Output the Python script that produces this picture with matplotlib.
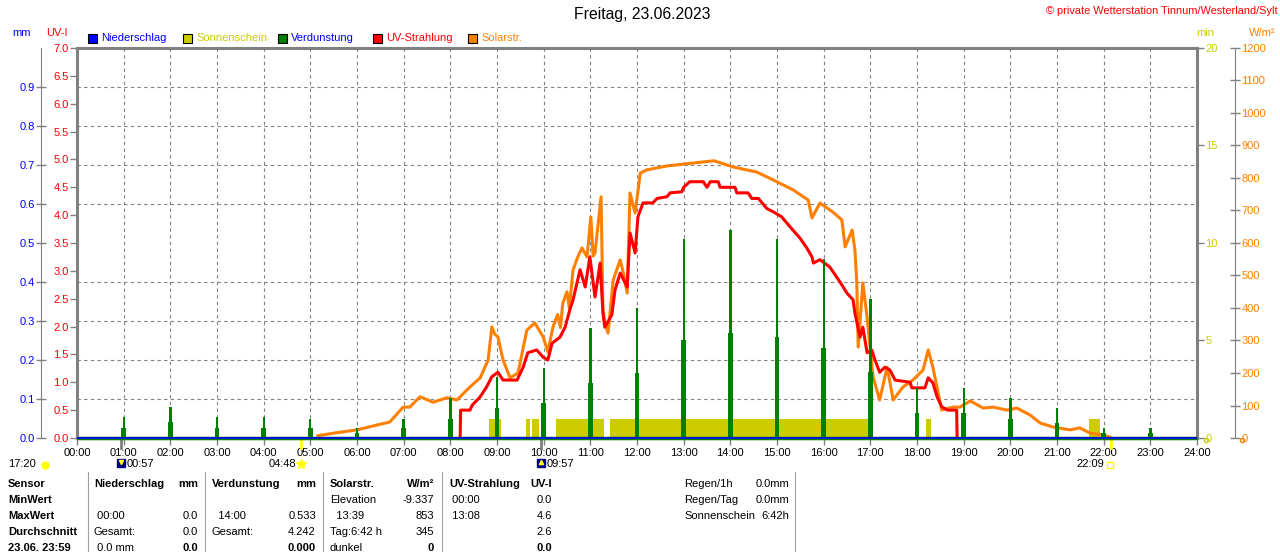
import matplotlib
matplotlib.use("Agg")
import matplotlib.pyplot as plt
from matplotlib.patches import Rectangle
from matplotlib.lines import Line2D
from matplotlib.ticker import MultipleLocator, FormatStrFormatter

plt.rcParams['font.family'] = ['Liberation Sans', 'DejaVu Sans']
plt.rcParams['font.size'] = 8

# ---- data ----
hours = list(range(25))
hour_labels = [f"{h:02d}:00" for h in hours]

# Verdunstung (mm), one spike per hour
evap_hours = list(range(1, 24))
evap_peak = [0.054, 0.080, 0.054, 0.054, 0.050, 0.026, 0.050, 0.103, 0.156, 0.180, 0.282, 0.333,
             0.510, 0.533, 0.510, 0.460, 0.356, 0.128, 0.128, 0.103, 0.077, 0.026, 0.026]
evap_low = [0.025, 0.040, 0.025, 0.025, 0.025, 0.012, 0.025, 0.050, 0.077, 0.090, 0.140, 0.167,
            0.250, 0.270, 0.260, 0.230, 0.170, 0.064, 0.064, 0.050, 0.038, 0.012, 0.012]

# Sonnenschein (min per minute)
sun_start = ["08:50", "09:37", "09:45", "10:16", "11:25", "18:11", "21:41"]
sun_end = ["09:05", "09:43", "09:54", "11:17", "16:58", "18:18", "21:55"]
sun_min = [1, 1, 1, 1, 1, 1, 1]

# Solarstrahlung (W/m2)
solar_t = [5.16, 5.5, 6.0, 6.43, 6.7, 6.99, 7.13, 7.35, 7.63, 7.93, 8.14, 8.42, 8.64, 8.81, 8.89,
           8.95, 9.02, 9.13, 9.28, 9.45, 9.64, 9.81, 9.99, 10.09, 10.2, 10.3, 10.36, 10.41, 10.5,
           10.55, 10.63, 10.73, 10.82, 10.93, 11.01, 11.06, 11.1, 11.23, 11.27, 11.31, 11.38,
           11.49, 11.64, 11.72, 11.79, 11.85, 11.96, 12.07, 12.21, 12.64, 13.2, 13.65, 14.06,
           14.57, 14.92, 15.35, 15.67, 15.75, 15.92, 16.2, 16.39, 16.46, 16.61, 16.67, 16.71,
           16.74, 16.84, 16.93, 17.06, 17.2, 17.36, 17.49, 17.7, 17.91, 18.13, 18.24, 18.34,
           18.53, 18.77, 18.92, 19.14, 19.42, 19.63, 19.93, 20.14, 20.42, 20.64, 20.91, 21.28,
           21.49, 21.71, 21.99, 22.13]
solar_w = [7, 15, 25, 40, 49, 95, 95, 127, 110, 124, 117, 157, 185, 240, 342,
           320, 311, 240, 185, 200, 332, 354, 311, 265, 342, 380, 340, 415, 450,
           400, 517, 557, 585, 557, 680, 560, 569, 742, 400, 354, 323,
           486, 548, 500, 446, 754, 692, 815, 825, 837, 846, 853, 834,
           818, 794, 763, 732, 677, 723, 695, 671, 588, 640, 578, 477,
           280, 477, 372, 188, 117, 218, 117, 157, 178, 209, 271, 218,
           86, 95, 95, 114, 92, 95, 86, 92, 71, 46, 34, 25,
           31, 15, 9, 3]

# UV-Strahlung (UV-I)
uv_t = [8.21, 8.22, 8.42, 8.47, 8.64, 8.78, 8.89, 9.02, 9.13, 9.43, 9.56, 9.66, 9.85, 9.99,
        10.09, 10.18, 10.35, 10.46, 10.56, 10.63, 10.78, 10.89, 10.99, 11.1, 11.21, 11.27,
        11.31, 11.46, 11.53, 11.64, 11.79, 11.85, 11.96, 12.02, 12.13, 12.34, 12.43, 12.64,
        12.71, 12.96, 13.0, 13.13, 13.42, 13.5, 13.57, 13.74, 13.78, 14.1, 14.14, 14.38,
        14.46, 14.6, 14.78, 14.92, 15.1, 15.28, 15.49, 15.64, 15.75, 15.78, 15.92, 16.13,
        16.35, 16.5, 16.63, 16.67, 16.78, 16.84, 16.93, 17.03, 17.1, 17.2, 17.31, 17.42,
        17.53, 17.85, 17.89, 18.17, 18.24, 18.34, 18.43, 18.53, 18.66, 18.85, 18.86]
uv_i = [0.0, 0.5, 0.5, 0.59, 0.74, 0.92, 1.1, 1.18, 1.04, 1.04, 1.27, 1.53, 1.58, 1.45,
        1.4, 1.7, 1.81, 1.99, 2.3, 2.48, 3.02, 2.71, 3.25, 2.53, 3.14, 2.24,
        1.99, 2.21, 2.66, 2.96, 2.71, 3.68, 3.32, 3.97, 4.22, 4.22, 4.3, 4.33,
        4.4, 4.42, 4.5, 4.6, 4.6, 4.5, 4.6, 4.6, 4.5, 4.5, 4.4, 4.4,
        4.3, 4.3, 4.12, 4.06, 3.97, 3.79, 3.59, 3.41, 3.25, 3.14, 3.2, 3.07,
        2.8, 2.6, 2.48, 2.24, 1.81, 1.99, 1.53, 1.58, 1.4, 1.18, 1.27, 1.22,
        1.04, 1.0, 0.9, 0.9, 1.08, 0.99, 0.74, 0.56, 0.5, 0.5, 0.0]

# Niederschlag (mm)
rain_t = [0, 24]
rain_mm = [0.0, 0.0]

legend_names = ["Niederschlag", "Sonnenschein", "Verdunstung", "UV-Strahlung", "Solarstr."]

BLUE = '#0000ff'
YEL = '#cccc00'
GREEN = '#008000'
RED = '#ff0000'
ORANGE = '#ff8000'
GRAY = '#808080'
legend_box = [BLUE, YEL, GREEN, RED, ORANGE]
legend_txt = [BLUE, YEL, BLUE, RED, ORANGE]


def hm(s):
    h, m = s.split(":")
    return int(h) + int(m) / 60


W, H = 1280, 552


def fx(x):
    return x / W


def fy(y):
    return 1 - y / H


fig = plt.figure(figsize=(12.8, 5.52), dpi=100)

ax = fig.add_axes([fx(77), fy(438), 1120 / W, 390 / H])
ax.set_xlim(0, 24)
ax.set_ylim(0, 7)
ax.set_xticks(hours)
ax.set_xticklabels(hour_labels)
ax.yaxis.set_major_locator(MultipleLocator(0.5))
ax.yaxis.set_major_formatter(FormatStrFormatter('%.1f'))
ax.yaxis.set_minor_locator(MultipleLocator(0.7))
ax.tick_params(axis='y', which='major', colors=GRAY, labelcolor=RED, length=5, width=1, pad=1, labelsize=8)
ax.tick_params(axis='y', which='minor', length=0)
ax.tick_params(axis='x', colors=GRAY, labelcolor='black', length=5, width=1, pad=2, labelsize=8)
ax.grid(axis='x', which='major', color=GRAY, ls=(0, (3, 3)), lw=0.8)
ax.grid(axis='y', which='minor', color=GRAY, ls=(0, (3, 3)), lw=0.8)
for s in ax.spines.values():
    s.set_color(GRAY)
    s.set_linewidth(2.2)

# Sonnenschein
ax_min = ax.twinx()
ax_min.set_ylim(0, 20)
ax_min.set_yticks([0, 5, 10, 15, 20])
ax_min.tick_params(axis='y', colors=GRAY, labelcolor=YEL, length=5, width=1, pad=1, labelsize=8)
for s in ax_min.spines.values():
    s.set_visible(False)
starts = [hm(s) for s in sun_start]
widths = [hm(e) - hm(s) for s, e in zip(sun_start, sun_end)]
ax_min.bar(starts, sun_min, width=widths, align='edge', color=YEL, lw=0)

# Solarstrahlung
ax_w = ax.twinx()
ax_w.set_ylim(0, 1200)
ax_w.yaxis.set_major_locator(MultipleLocator(100))
ax_w.tick_params(axis='y', colors=GRAY, labelcolor=ORANGE, direction='inout', length=7, width=1, pad=1, labelsize=8)
for k, s in ax_w.spines.items():
    s.set_visible(k == 'right')
ax_w.spines['right'].set_position(('outward', 27.4))
ax_w.spines['right'].set_color(GRAY)
ax_w.plot(solar_t, solar_w, color=ORANGE, lw=2.2)

# UV
ax_r = ax.twinx()
ax_r.set_ylim(0, 7)
ax_r.set_yticks([])
for s in ax_r.spines.values():
    s.set_visible(False)
ax_r.plot(uv_t, uv_i, color=RED, lw=2.2)

# Verdunstung + Niederschlag
ax_mm = ax.twinx()
ax_mm.set_ylim(0, 1.0)
ax_mm.yaxis.tick_left()
ax_mm.set_yticks([i / 10 for i in range(10)])
ax_mm.yaxis.set_major_formatter(FormatStrFormatter('%.1f'))
ax_mm.tick_params(axis='y', colors=GRAY, labelcolor=BLUE, direction='inout', length=7, width=1, pad=1, labelsize=8)
for k, s in ax_mm.spines.items():
    s.set_visible(k == 'left')
ax_mm.spines['left'].set_position(('outward', 26))
ax_mm.spines['left'].set_color(GRAY)
ax_mm.bar(evap_hours, evap_low, width=0.1, color=GREEN, lw=0)
ax_mm.bar(evap_hours, evap_peak, width=0.05, color=GREEN, lw=0)
ax_mm.plot([0, 24], [0, 0], color=GREEN, lw=2.5, clip_on=False, solid_capstyle='butt')
ax_mm.plot(rain_t, rain_mm, color=BLUE, lw=1.2, clip_on=False, solid_capstyle='butt')

# rise / set marks below the axis
trans = ax.get_xaxis_transform()
for t, c in [("00:57", GRAY), ("04:48", '#ffff00'), ("09:57", GRAY), ("22:09", '#ffff00')]:
    ax.plot([hm(t), hm(t)], [0, -0.025], color=c, lw=2, transform=trans, clip_on=False)

# header texts
fig.text(fx(642), fy(15), "Freitag, 23.06.2023", ha='center', va='center', fontsize=11.3)
fig.text(fx(1278), fy(11), "© private Wetterstation Tinnum/Westerland/Sylt", ha='right', va='center',
         color=RED, fontsize=7.9)
fig.text(fx(22), fy(33), "mm", ha='center', va='center', color=BLUE)
fig.text(fx(57), fy(33), "UV-I", ha='center', va='center', color=RED)
fig.text(fx(1205), fy(33), "min", ha='center', va='center', color=YEL)
fig.text(fx(1262), fy(33), "W/m²", ha='center', va='center', color=ORANGE)

for i, (name, bc, tc) in enumerate(zip(legend_names, legend_box, legend_txt)):
    x0 = 88 + i * 95
    fig.add_artist(Rectangle((fx(x0), fy(43)), 9 / W, 9 / H, facecolor=bc, edgecolor='black',
                             lw=0.8, transform=fig.transFigure))
    fig.text(fx(x0 + 13), fy(38), name, ha='left', va='center', color=tc)

# sun / moon row
fig.text(fx(8), fy(464), "17:20", ha='left', va='center')
fig.add_artist(Line2D([fx(45)], [fy(465)], marker='o', ms=5, color='#ffff00', transform=fig.transFigure))
fig.add_artist(Line2D([fx(121)], [fy(463)], marker='s', ms=6, color='#000080', transform=fig.transFigure))
fig.add_artist(Line2D([fx(121)], [fy(462)], marker='v', ms=3, color='#ffff00', transform=fig.transFigure))
fig.text(fx(127), fy(464), "00:57", ha='left', va='center')
fig.text(fx(296), fy(464), "04:48", ha='right', va='center')
fig.add_artist(Line2D([fx(301)], [fy(464)], marker='*', ms=7, color='#ffff00', transform=fig.transFigure))
fig.add_artist(Line2D([fx(541)], [fy(463)], marker='s', ms=6, color='#000080', transform=fig.transFigure))
fig.add_artist(Line2D([fx(541)], [fy(462)], marker='^', ms=3, color='#ffff00', transform=fig.transFigure))
fig.text(fx(547), fy(464), "09:57", ha='left', va='center')
fig.text(fx(1104), fy(464), "22:09", ha='right', va='center')
fig.add_artist(Line2D([fx(1110)], [fy(465)], marker='s', ms=4, mfc='none', mec='#ffff00',
                      transform=fig.transFigure))
fig.add_artist(Line2D([fx(1206)], [fy(440)], marker='o', ms=3, mfc='none', mec=YEL, transform=fig.transFigure))
fig.add_artist(Line2D([fx(1242)], [fy(440)], marker='o', ms=3, mfc='none', mec=ORANGE, transform=fig.transFigure))

# table
rows_y = [484, 500, 516, 532, 548]
row_labels = ["Sensor", "MinWert", "MaxWert", "Durchschnitt", "23.06. 23:59"]
for y, lab in zip(rows_y, row_labels):
    fig.text(fx(8), fy(y), lab, ha='left', va='center', fontweight='bold')

for x in [88, 205, 323, 442, 795]:
    fig.add_artist(Line2D([fx(x), fx(x)], [fy(472), fy(552)], color='#a0a0a0', lw=0.8,
                          transform=fig.transFigure))

cells = [
    # (left x, right x, [(left text, right text) per row])
    (94, 198, [("Niederschlag", "mm"), ("", ""), (" 00:00", "0.0"), ("Gesamt:", "0.0"), (" 0.0 mm", "0.0")]),
    (212, 316, [("Verdunstung", "mm"), ("", ""), ("  14:00", "0.533"), ("Gesamt:", "4.242"), ("", "0.000")]),
    (330, 434, [("Solarstr.", "W/m²"), ("Elevation", "-9.337"), ("  13:39", "853"), ("Tag:6:42 h", "345"),
                ("dunkel", "0")]),
    (449, 552, [("UV-Strahlung", "UV-I"), (" 00:00", "0.0"), (" 13:08", "4.6"), ("", "2.6"), ("", "0.0")]),
    (684, 789, [("Regen/1h", "0.0mm"), ("Regen/Tag", "0.0mm"), ("Sonnenschein", "6:42h")]),
]
for ci, (xl, xr, vals) in enumerate(cells):
    for ri, (lt, rt) in enumerate(vals):
        y = rows_y[ri]
        head = ri == 0 and ci < 4
        last = ri == 4
        fig.text(fx(xl), fy(y), lt, ha='left', va='center', fontweight='bold' if head else 'normal')
        fig.text(fx(xr), fy(y), rt, ha='right', va='center', fontweight='bold' if (head or last) else 'normal')

fig.savefig("out.png", dpi=100)
